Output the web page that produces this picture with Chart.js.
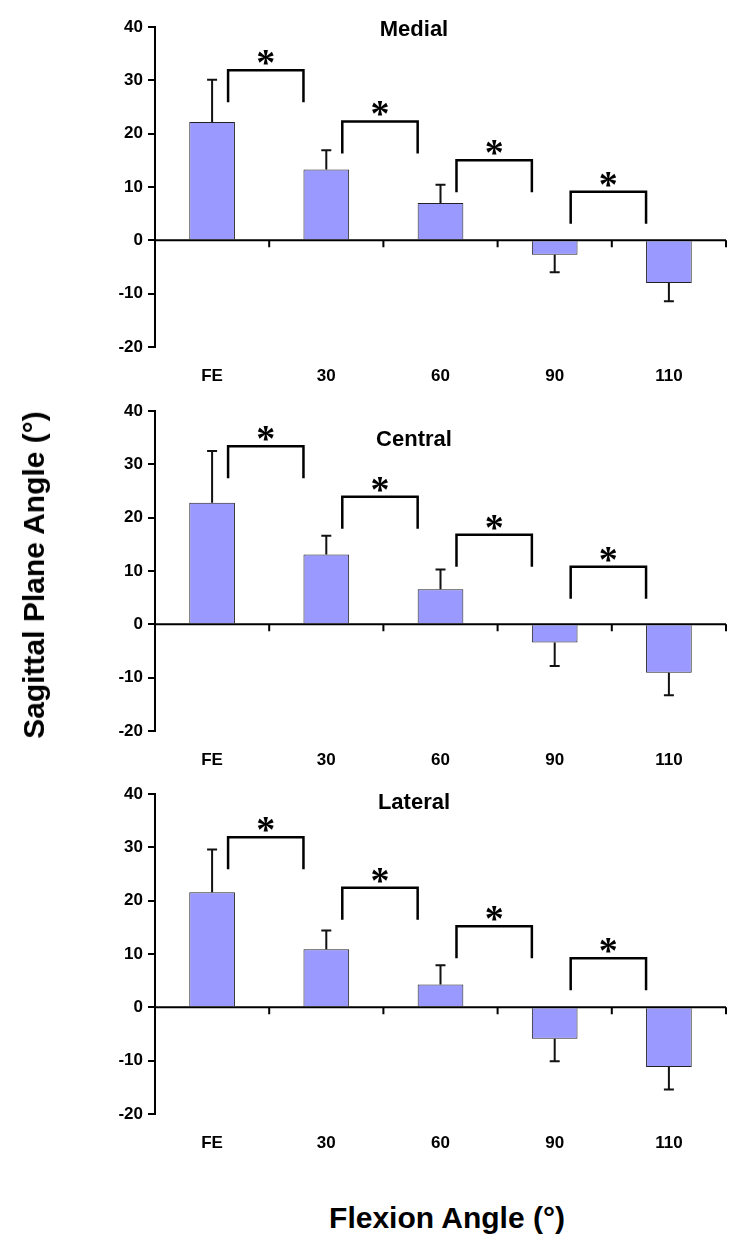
<!DOCTYPE html>
<html>
<head>
<meta charset="utf-8">
<script src="https://cdn.jsdelivr.net/npm/chart.js@4.4.0/dist/chart.umd.min.js"></script>
<style>
body { margin: 0; background: #fff; width: 750px; height: 1248px; position: relative; overflow: hidden; font-family: "Liberation Sans", Arial, sans-serif; }
canvas { position: absolute; left: 0; }
#ytitle { position: absolute; left: 34px; top: 575px; transform: translate(-50%, -50%) rotate(-90deg); font-weight: bold; font-size: 30px; white-space: nowrap; }
#xtitle { position: absolute; left: 447px; top: 1218px; transform: translate(-50%, -50%); font-weight: bold; font-size: 30px; white-space: nowrap; }
</style>
</head>
<body>
<canvas id="medial" width="750" height="387" style="top:0px"></canvas>
<canvas id="central" width="750" height="387" style="top:384px"></canvas>
<canvas id="lateral" width="750" height="387" style="top:767px"></canvas>
<div id="ytitle">Sagittal Plane Angle (°)</div>
<div id="xtitle">Flexion Angle (°)</div>
<script>
// categories (flexion angles)
const categories = ['FE', '30', '60', '90', '110'];

// mean values and error bar ends
const medialMeans = [22.2, 13.3, 7.0, -2.7, -8.0];
const medialErr = [30.1, 16.9, 10.4, -6.0, -11.4];
const centralMeans = [22.8, 13.1, 6.6, -3.4, -9.1];
const centralErr = [32.5, 16.6, 10.3, -7.8, -13.3];
const lateralMeans = [21.6, 10.9, 4.3, -5.9, -11.2];
const lateralErr = [29.6, 14.4, 7.9, -10.1, -15.4];

// significance brackets (height of the top bar)
const medialBrackets = [31.9, 22.3, 15.0, 9.1];
const centralBrackets = [33.4, 23.9, 16.8, 10.8];
const lateralBrackets = [31.9, 22.4, 15.2, 9.2];

// panel titles and their heights
const panelTitles = ['Medial', 'Central', 'Lateral'];
const titleValues = [39.4, 34.5, 38.3];

const yTicks = [-20, -10, 0, 10, 20, 30, 40];

Chart.defaults.font.family = '"Liberation Sans", Arial, sans-serif';
Chart.defaults.color = '#000';

const extras = {
    id: 'extras',
    afterDatasetsDraw(chart, args, opts) {
        const ctx = chart.ctx;
        const x = chart.scales.x, y = chart.scales.y;
        const area = chart.chartArea;
        const meta = chart.getDatasetMeta(0);
        const catW = x.getPixelForValue(1) - x.getPixelForValue(0);
        const y0 = y.getPixelForValue(0);
        ctx.save();
        ctx.strokeStyle = '#000';
        ctx.lineWidth = 2;
        // zero line with ticks between categories
        ctx.beginPath();
        ctx.moveTo(area.left, y0);
        ctx.lineTo(area.right, y0);
        for (let i = 0; i < categories.length; i++) {
            const bx = x.getPixelForValue(i) + catW / 2;
            ctx.moveTo(bx, y0);
            ctx.lineTo(bx, y0 + 7);
        }
        ctx.stroke();
        // error bars
        ctx.lineWidth = 2;
        ctx.strokeStyle = '#111';
        opts.err.forEach((e, i) => {
            const bx = meta.data[i].x;
            const yt = y.getPixelForValue(opts.means[i]);
            const ye = y.getPixelForValue(e);
            ctx.beginPath();
            ctx.moveTo(bx, yt);
            ctx.lineTo(bx, ye);
            ctx.moveTo(bx - 5, ye);
            ctx.lineTo(bx + 5, ye);
            ctx.stroke();
        });
        // brackets and asterisks
        ctx.lineWidth = 2.5;
        ctx.strokeStyle = '#000';
        opts.brackets.forEach((b, i) => {
            const xl = x.getPixelForValue(i) + 0.14 * catW;
            const xr = x.getPixelForValue(i) + 0.8 * catW;
            const yt = y.getPixelForValue(b);
            const yb = y.getPixelForValue(b - 6);
            ctx.beginPath();
            ctx.moveTo(xl, yb);
            ctx.lineTo(xl, yt);
            ctx.lineTo(xr, yt);
            ctx.lineTo(xr, yb);
            ctx.stroke();
            ctx.fillStyle = '#000';
            ctx.font = 'bold 38px "Liberation Serif", serif';
            ctx.textAlign = 'center';
            ctx.textBaseline = 'middle';
            ctx.fillText('*', (xl + xr) / 2, yt - 5);
        });
        // panel title
        ctx.font = 'bold 22px "Liberation Sans", Arial, sans-serif';
        ctx.textAlign = 'center';
        ctx.textBaseline = 'middle';
        ctx.fillText(opts.title, 414, y.getPixelForValue(opts.titleValue));
        ctx.restore();
    }
};

function makePanel(id, means, err, brackets, title, titleValue) {
    new Chart(document.getElementById(id), {
        type: 'bar',
        data: {
            labels: categories,
            datasets: [{
                data: means,
                backgroundColor: '#9999ff',
                borderColor: '#222222',
                borderWidth: 1,
                barPercentage: 0.4,
                categoryPercentage: 1
            }]
        },
        options: {
            responsive: false,
            animation: false,
            layout: { padding: { top: 27, right: 24, left: 0, bottom: 0 } },
            plugins: {
                legend: { display: false },
                tooltip: { enabled: false },
                extras: { means: means, err: err, brackets: brackets, title: title, titleValue: titleValue }
            },
            scales: {
                x: {
                    offset: true,
                    grid: { display: false },
                    border: { display: false },
                    ticks: { font: { size: 17, weight: 'bold' }, color: '#000', padding: 11 },
                    afterFit: s => { s.height = 40; }
                },
                y: {
                    min: -20,
                    max: 40,
                    afterBuildTicks: s => { s.ticks = yTicks.map(v => ({ value: v })); },
                    ticks: { font: { size: 17, weight: 'bold' }, color: '#000', padding: 5 },
                    grid: { drawOnChartArea: false, tickLength: 7, color: '#000', lineWidth: 2 },
                    border: { color: '#000', width: 2 },
                    afterFit: s => { s.width = 155; }
                }
            }
        },
        plugins: [extras]
    });
}

makePanel('medial', medialMeans, medialErr, medialBrackets, panelTitles[0], titleValues[0]);
makePanel('central', centralMeans, centralErr, centralBrackets, panelTitles[1], titleValues[1]);
makePanel('lateral', lateralMeans, lateralErr, lateralBrackets, panelTitles[2], titleValues[2]);
</script>
</body>
</html>
